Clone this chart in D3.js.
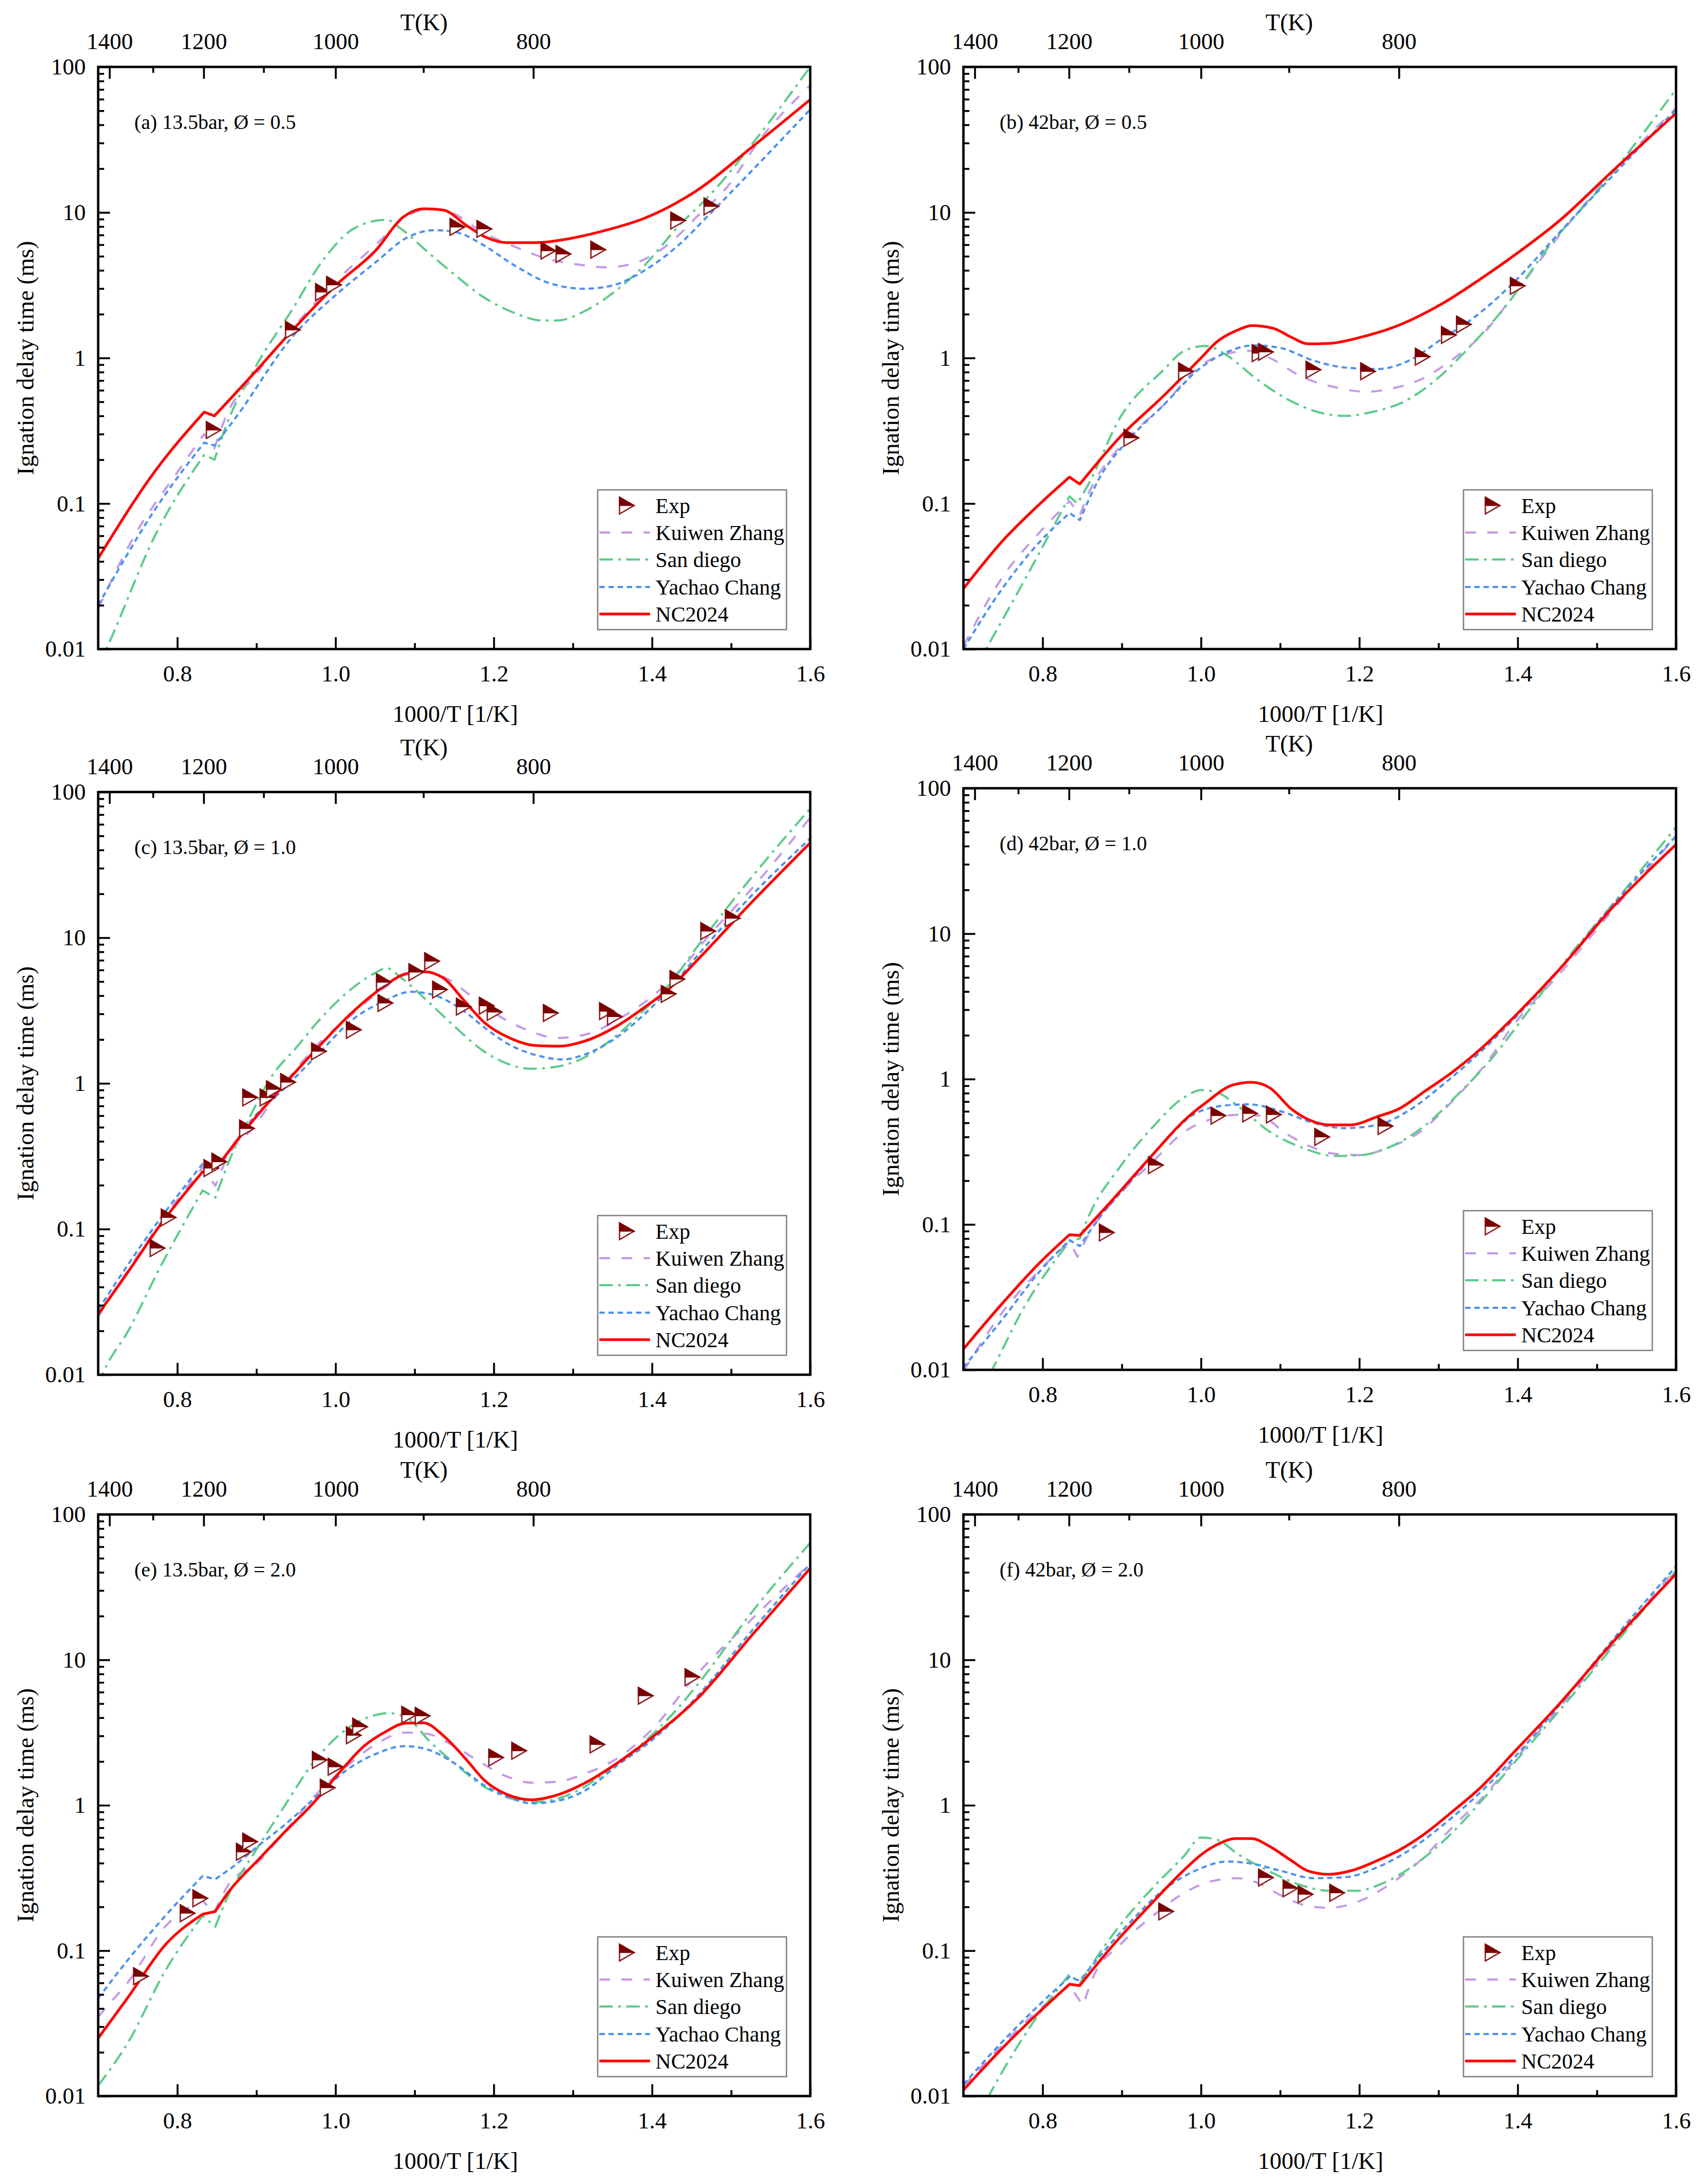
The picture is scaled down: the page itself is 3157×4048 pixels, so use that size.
<!DOCTYPE html>
<html><head><meta charset="utf-8">
<script src="https://cdn.jsdelivr.net/npm/d3@7"></script>
<style>
body{margin:0;background:#fff}
svg text{font-family:"Liberation Serif","Times New Roman",serif}
</style>
</head><body>
<svg id="fig" width="3157" height="4048"></svg>
<script>
// ---------------- DATA (1000/T [1/K], ignition delay time [ms]) ----------------
// Panel (a) 13.5 bar, phi 0.5
const kz_a = [[0.700,0.019],[0.745,0.059],[0.800,0.164],[0.834,0.30],[0.847,0.24],[0.861,0.39],[0.900,0.78],[0.946,1.6],[1.001,3.4],[1.051,6.0],[1.091,9.5],[1.119,10.6],[1.146,10.0],[1.186,7.3],[1.227,5.8],[1.268,4.8],[1.309,4.37],[1.342,4.2],[1.376,4.45],[1.424,6.25],[1.458,9.5],[1.492,14.3],[1.539,33],[1.600,74.6]];
const sd_a = [[0.700,0.0076],[0.712,0.0105],[0.773,0.062],[0.834,0.216],[0.847,0.20],[0.861,0.334],[0.900,0.89],[0.946,2.18],[0.983,4.6],[1.024,7.8],[1.064,8.9],[1.085,7.55],[1.119,5.2],[1.153,3.64],[1.186,2.64],[1.227,2.03],[1.261,1.81],[1.281,1.81],[1.315,2.1],[1.356,2.95],[1.390,4.3],[1.433,8.0],[1.475,13.5],[1.539,36],[1.600,100]];
const yc_a = [[0.700,0.020],[0.773,0.093],[0.834,0.262],[0.847,0.25],[0.874,0.39],[0.946,1.41],[1.001,2.73],[1.051,4.56],[1.091,6.75],[1.125,7.55],[1.153,7.3],[1.186,6.0],[1.227,4.3],[1.268,3.3],[1.315,2.99],[1.349,3.14],[1.390,3.98],[1.431,5.8],[1.471,9.5],[1.526,19.3],[1.600,51]];
const nc_a = [[0.700,0.042],[0.773,0.17],[0.834,0.425],[0.847,0.40],[0.900,0.82],[0.946,1.56],[1.001,3.18],[1.051,5.5],[1.085,9.25],[1.112,10.6],[1.136,10.4],[1.166,8.1],[1.190,6.75],[1.217,6.2],[1.254,6.2],[1.295,6.6],[1.342,7.55],[1.390,9.1],[1.458,14.3],[1.526,28],[1.600,59.6]];
const exp_a = [[0.846,0.32],[0.946,1.56],[0.984,2.84],[0.998,3.18],[1.154,7.95],[1.188,7.7],[1.269,5.46],[1.288,5.18],[1.332,5.55],[1.433,8.8],[1.475,11.0]];

// Panel (b) 42 bar, phi 0.5
const kz_b = [[0.700,0.0105],[0.749,0.031],[0.797,0.064],[0.834,0.104],[0.847,0.083],[0.858,0.117],[0.898,0.247],[0.952,0.47],[1.000,0.89],[1.033,1.07],[1.060,1.12],[1.087,1.0],[1.128,0.74],[1.169,0.63],[1.209,0.586],[1.243,0.62],[1.277,0.71],[1.317,0.97],[1.358,1.5],[1.398,2.84],[1.453,7.0],[1.500,14.3],[1.600,52]];
const sd_b = [[0.700,0.0053],[0.729,0.0101],[0.776,0.029],[0.834,0.112],[0.844,0.10],[0.858,0.136],[0.898,0.39],[0.952,0.82],[0.979,1.12],[1.006,1.21],[1.033,1.04],[1.067,0.74],[1.108,0.525],[1.148,0.425],[1.182,0.40],[1.216,0.425],[1.256,0.5],[1.297,0.71],[1.338,1.17],[1.385,2.27],[1.439,5.8],[1.507,15.4],[1.600,70]];
const yc_b = [[0.700,0.010],[0.749,0.026],[0.797,0.055],[0.834,0.086],[0.847,0.077],[0.871,0.147],[0.912,0.287],[0.952,0.47],[1.000,0.86],[1.033,1.1],[1.067,1.22],[1.101,1.17],[1.142,0.96],[1.182,0.86],[1.223,0.84],[1.263,0.96],[1.304,1.35],[1.344,1.88],[1.398,3.43],[1.453,7.3],[1.520,17.9],[1.600,51]];
const nc_b = [[0.700,0.026],[0.749,0.055],[0.797,0.10],[0.834,0.152],[0.847,0.136],[0.898,0.287],[0.952,0.544],[1.000,1.0],[1.020,1.29],[1.047,1.56],[1.064,1.67],[1.091,1.6],[1.114,1.39],[1.135,1.25],[1.162,1.26],[1.202,1.39],[1.250,1.68],[1.304,2.35],[1.351,3.43],[1.398,5.18],[1.453,8.8],[1.520,19.3],[1.600,48]];
const exp_b = [[0.912,0.283],[0.981,0.81],[1.074,1.08],[1.082,1.1],[1.142,0.83],[1.211,0.81],[1.280,1.02],[1.313,1.44],[1.332,1.70],[1.400,3.13]];

// Panel (c) 13.5 bar, phi 1.0
const kz_c = [[0.700,0.025],[0.777,0.107],[0.832,0.265],[0.848,0.198],[0.864,0.316],[0.895,0.49],[0.934,0.97],[0.973,1.74],[1.020,2.95],[1.060,4.45],[1.091,5.62],[1.115,5.8],[1.142,5.2],[1.169,4.07],[1.201,3.03],[1.248,2.26],[1.279,2.05],[1.314,2.15],[1.363,2.87],[1.404,4.11],[1.437,6.1],[1.471,10.2],[1.526,21.7],[1.600,66.7]];
const sd_c = [[0.700,0.0085],[0.707,0.0105],[0.738,0.02],[0.777,0.053],[0.832,0.184],[0.848,0.164],[0.864,0.28],[0.895,0.64],[0.918,1.09],[0.950,1.75],[0.981,2.78],[1.020,4.45],[1.052,5.8],[1.064,6.2],[1.083,5.3],[1.115,3.73],[1.150,2.47],[1.189,1.64],[1.248,1.26],[1.279,1.30],[1.314,1.5],[1.356,2.15],[1.390,3.19],[1.424,4.93],[1.458,8.8],[1.526,26],[1.600,77]];
const yc_c = [[0.700,0.028],[0.777,0.115],[0.832,0.28],[0.856,0.28],[0.864,0.33],[0.895,0.57],[0.934,0.91],[0.981,1.65],[1.020,2.7],[1.060,3.64],[1.095,4.25],[1.122,4.07],[1.162,3.14],[1.189,2.4],[1.220,1.84],[1.256,1.55],[1.287,1.46],[1.314,1.57],[1.356,2.08],[1.390,2.97],[1.424,4.58],[1.458,7.6],[1.526,19.5],[1.600,48]];
const nc_c = [[0.700,0.026],[0.738,0.051],[0.777,0.104],[0.832,0.247],[0.848,0.257],[0.864,0.336],[0.895,0.55],[0.934,0.966],[0.981,1.84],[1.020,3.03],[1.060,4.58],[1.087,5.62],[1.111,5.86],[1.136,5.3],[1.162,3.73],[1.189,2.59],[1.220,2.05],[1.252,1.82],[1.283,1.8],[1.315,1.95],[1.356,2.48],[1.390,3.31],[1.424,4.58],[1.458,7.08],[1.526,17.5],[1.600,44.8]];
const exp_c = [[0.775,0.074],[0.789,0.12],[0.843,0.262],[0.853,0.29],[0.888,0.49],[0.892,0.80],[0.914,0.80],[0.922,0.91],[0.940,1.02],[0.979,1.66],[1.023,2.33],[1.061,4.95],[1.063,3.56],[1.102,5.8],[1.122,6.9],[1.132,4.4],[1.162,3.36],[1.191,3.41],[1.201,3.09],[1.272,3.04],[1.343,3.13],[1.353,2.87],[1.421,4.11],[1.432,5.2],[1.471,11.1],[1.502,13.6]];

// Panel (d) 42 bar, phi 1.0
const kz_d = [[0.700,0.0098],[0.749,0.0248],[0.797,0.049],[0.834,0.0765],[0.844,0.06],[0.858,0.085],[0.898,0.163],[0.939,0.27],[0.979,0.434],[1.013,0.53],[1.047,0.568],[1.074,0.56],[1.108,0.42],[1.142,0.337],[1.169,0.306],[1.202,0.30],[1.236,0.337],[1.277,0.434],[1.317,0.70],[1.358,1.24],[1.398,2.48],[1.453,5.3],[1.520,14.5],[1.600,46.8]];
const sd_d = [[0.700,0.0045],[0.736,0.01],[0.776,0.0266],[0.834,0.0765],[0.847,0.08],[0.858,0.113],[0.898,0.25],[0.939,0.467],[0.979,0.75],[1.000,0.84],[1.020,0.81],[1.047,0.65],[1.087,0.434],[1.128,0.337],[1.169,0.296],[1.202,0.30],[1.243,0.35],[1.284,0.484],[1.324,0.78],[1.365,1.34],[1.412,2.87],[1.466,7.1],[1.534,19.6],[1.600,54]];
const yc_d = [[0.700,0.0104],[0.749,0.0222],[0.797,0.048],[0.834,0.078],[0.847,0.071],[0.871,0.11],[0.912,0.2],[0.952,0.36],[0.993,0.58],[1.033,0.66],[1.060,0.67],[1.101,0.6],[1.142,0.5],[1.182,0.46],[1.223,0.484],[1.263,0.61],[1.304,0.9],[1.351,1.5],[1.398,2.68],[1.453,5.7],[1.520,15.8],[1.600,46.8]];
const nc_d = [[0.700,0.0139],[0.749,0.0286],[0.797,0.055],[0.834,0.085],[0.847,0.084],[0.885,0.141],[0.939,0.302],[0.979,0.52],[1.006,0.686],[1.040,0.91],[1.064,0.95],[1.087,0.87],[1.114,0.624],[1.138,0.52],[1.162,0.484],[1.189,0.484],[1.223,0.552],[1.250,0.624],[1.284,0.834],[1.317,1.11],[1.351,1.57],[1.398,2.76],[1.453,5.7],[1.520,15.2],[1.600,41]];
const exp_d = [[0.881,0.088],[0.943,0.256],[1.022,0.56],[1.062,0.58],[1.092,0.57],[1.153,0.40],[1.233,0.475]];

// Panel (e) 13.5 bar, phi 2.0
const kz_e = [[0.700,0.035],[0.707,0.039],[0.738,0.061],[0.785,0.147],[0.832,0.222],[0.846,0.18],[0.864,0.28],[0.903,0.41],[0.934,0.64],[0.973,1.15],[1.013,1.83],[1.052,2.65],[1.087,3.16],[1.115,3.1],[1.150,2.55],[1.181,2.01],[1.216,1.58],[1.248,1.43],[1.279,1.45],[1.314,1.64],[1.356,2.1],[1.404,3.5],[1.451,7.3],[1.526,19],[1.600,46]];
const sd_e = [[0.700,0.0118],[0.738,0.0235],[0.785,0.073],[0.832,0.174],[0.848,0.146],[0.864,0.237],[0.895,0.45],[0.934,0.96],[0.973,2.0],[1.013,3.31],[1.052,4.19],[1.067,4.3],[1.091,3.98],[1.118,2.78],[1.150,1.95],[1.189,1.33],[1.220,1.12],[1.248,1.05],[1.283,1.12],[1.314,1.33],[1.356,1.95],[1.390,2.72],[1.431,4.54],[1.458,6.8],[1.526,21.2],[1.600,63.8]];
const yc_e = [[0.700,0.047],[0.738,0.087],[0.785,0.174],[0.832,0.326],[0.848,0.31],[0.871,0.38],[0.903,0.53],[0.934,0.72],[0.973,1.11],[1.013,1.73],[1.052,2.27],[1.087,2.55],[1.115,2.43],[1.150,1.95],[1.189,1.36],[1.220,1.13],[1.248,1.03],[1.283,1.08],[1.314,1.25],[1.356,1.88],[1.400,2.8],[1.458,5.66],[1.526,15.8],[1.600,45.9]];
const nc_e = [[0.700,0.025],[0.738,0.048],[0.785,0.11],[0.832,0.178],[0.848,0.186],[0.864,0.25],[0.903,0.425],[0.934,0.64],[0.973,1.05],[1.005,1.68],[1.036,2.55],[1.064,3.22],[1.087,3.66],[1.111,3.69],[1.138,2.95],[1.165,2.07],[1.189,1.47],[1.216,1.19],[1.248,1.09],[1.283,1.19],[1.314,1.41],[1.356,1.95],[1.400,2.93],[1.458,5.46],[1.526,14.7],[1.600,42.7]];
const exp_e = [[0.754,0.0667],[0.813,0.181],[0.829,0.229],[0.884,0.478],[0.892,0.562],[0.980,2.05],[0.990,1.32],[1.000,1.84],[1.023,3.03],[1.031,3.47],[1.093,4.19],[1.110,4.12],[1.203,2.13],[1.232,2.37],[1.331,2.62],[1.392,5.66],[1.451,7.6]];

// Panel (f) 42 bar, phi 2.0
const kz_f = [[0.700,0.0117],[0.749,0.0224],[0.797,0.04],[0.834,0.0575],[0.851,0.042],[0.864,0.066],[0.898,0.11],[0.939,0.173],[0.979,0.25],[1.013,0.3],[1.047,0.315],[1.074,0.289],[1.101,0.24],[1.135,0.203],[1.162,0.197],[1.196,0.215],[1.236,0.28],[1.277,0.417],[1.317,0.7],[1.358,1.17],[1.398,2.1],[1.453,4.7],[1.520,12.7],[1.600,42.7]];
const sd_f = [[0.700,0.0045],[0.732,0.01],[0.776,0.0256],[0.834,0.0688],[0.847,0.0595],[0.864,0.083],[0.898,0.15],[0.939,0.27],[0.979,0.45],[1.000,0.6],[1.020,0.58],[1.047,0.46],[1.087,0.35],[1.128,0.28],[1.162,0.258],[1.196,0.258],[1.229,0.29],[1.270,0.39],[1.317,0.645],[1.358,1.13],[1.398,2.03],[1.453,4.5],[1.520,12.3],[1.600,41]];
const yc_f = [[0.700,0.012],[0.749,0.0236],[0.797,0.043],[0.834,0.066],[0.847,0.062],[0.871,0.09],[0.912,0.16],[0.952,0.26],[0.993,0.355],[1.033,0.41],[1.060,0.40],[1.101,0.354],[1.142,0.315],[1.182,0.32],[1.223,0.375],[1.263,0.49],[1.304,0.72],[1.351,1.2],[1.398,2.2],[1.453,4.9],[1.520,13.7],[1.600,44]];
const nc_f = [[0.700,0.011],[0.749,0.0213],[0.797,0.0384],[0.834,0.0588],[0.847,0.0575],[0.885,0.103],[0.939,0.215],[0.979,0.36],[1.000,0.456],[1.023,0.545],[1.043,0.59],[1.064,0.59],[1.087,0.52],[1.114,0.417],[1.135,0.354],[1.162,0.335],[1.189,0.354],[1.223,0.417],[1.250,0.49],[1.284,0.644],[1.317,0.9],[1.351,1.29],[1.398,2.4],[1.453,5.0],[1.520,13.2],[1.600,39]];
const exp_f = [[0.956,0.186],[1.082,0.318],[1.113,0.268],[1.132,0.244],[1.172,0.25]];

// Tick values / labels
const xDomain = [0.7, 1.6];
const xMajorTicks = [0.8, 1.0, 1.2, 1.4, 1.6];
const xMinorTicks = [0.9, 1.1, 1.3, 1.5];
const yDomain = [0.01, 100];
const yMajorTicks = [0.01, 0.1, 1, 10, 100];
const yTickLabels = ["0.01", "0.1", "1", "10", "100"];
const tMajorTicks = [1400, 1200, 1000, 800];
const tMinorTicks = [1300, 1100, 900];
const panelTitles = ["(a) 13.5bar, Ø = 0.5","(b) 42bar, Ø = 0.5","(c) 13.5bar, Ø = 1.0","(d) 42bar, Ø = 1.0","(e) 13.5bar, Ø = 2.0","(f) 42bar, Ø = 2.0"];
const seriesKeys = ["kz","sd","yc","nc"];
const seriesNames = {kz:"Kuiwen Zhang", sd:"San diego", yc:"Yachao Chang", nc:"NC2024"};

// ---------------- STYLE / LAYOUT ----------------
const styles = {
  kz:{color:"#c49be8", width:4, dash:"20,21"},
  sd:{color:"#5ecb8b", width:4, dash:"25,10,5,10"},
  yc:{color:"#4d92ec", width:4, dash:"10,7"},
  nc:{color:"#ff0000", width:5, dash:null}
};
const panels = [
  {x:182,  y:124,  w:1320, h:1079, s:{kz:kz_a,sd:sd_a,yc:yc_a,nc:nc_a}, exp:exp_a},
  {x:1786, y:124,  w:1321, h:1079, s:{kz:kz_b,sd:sd_b,yc:yc_b,nc:nc_b}, exp:exp_b},
  {x:182,  y:1468, w:1320, h:1080, s:{kz:kz_c,sd:sd_c,yc:yc_c,nc:nc_c}, exp:exp_c},
  {x:1786, y:1461, w:1321, h:1078, s:{kz:kz_d,sd:sd_d,yc:yc_d,nc:nc_d}, exp:exp_d},
  {x:182,  y:2807, w:1320, h:1078, s:{kz:kz_e,sd:sd_e,yc:yc_e,nc:nc_e}, exp:exp_e},
  {x:1786, y:2807, w:1321, h:1078, s:{kz:kz_f,sd:sd_f,yc:yc_f,nc:nc_f}, exp:exp_f}
];
const FONT = '"Liberation Serif","Times New Roman",serif';
const svg = d3.select("#fig");
svg.append("rect").attr("width",3157).attr("height",4048).attr("fill","#fff");

function marker(g, cx, cy){
  const hw = 13.5, hh = 15.5;
  g.append("path")
    .attr("d", `M${cx-hw},${cy-hh} L${cx+hw},${cy} L${cx-hw},${cy+hh} Z`)
    .attr("fill","#fff").attr("stroke","#8b1a1a").attr("stroke-width",2.5).attr("stroke-linejoin","miter");
  g.append("path")
    .attr("d", `M${cx-hw},${cy-hh} L${cx+hw},${cy} L${cx-hw},${cy} Z`)
    .attr("fill","#7b0000").attr("stroke","#7b0000").attr("stroke-width",1.5);
}

function styleAxis(sel, fs){
  sel.select(".domain").remove();
  sel.selectAll("line").attr("stroke","#000").attr("stroke-width",3.5);
  sel.selectAll("text").attr("font-size",fs).attr("font-family",FONT).attr("fill","#000");
}

// smooth curve with a sharp (linear) kink at the high-temperature transition (~0.834)
function seriesPath(data, x, y){
  const mono = d3.line().x(d=>x(d[0])).y(d=>y(d[1])).curve(d3.curveMonotoneX);
  const k = data.findIndex(d=>d[0]>=0.828 && d[0]<=0.838);
  if(k<0 || k>=data.length-1) return mono(data);
  return mono(data.slice(0,k+1)) + mono(data.slice(k+1)).replace(/^M/,"L");
}

panels.forEach((p,i)=>{
  const g = svg.append("g").attr("transform",`translate(${p.x},${p.y})`);
  const x = d3.scaleLinear().domain(xDomain).range([0,p.w]);
  const y = d3.scaleLog().domain(yDomain).range([p.h,0]);
  const cid = "clip"+i;
  g.append("clipPath").attr("id",cid).append("rect").attr("width",p.w).attr("height",p.h);

  // series lines
  const lg = g.append("g").attr("clip-path",`url(#${cid})`);
  seriesKeys.forEach(k=>{
    const st = styles[k];
    lg.append("path").attr("d",seriesPath(p.s[k],x,y))
      .attr("fill","none").attr("stroke",st.color).attr("stroke-width",st.width)
      .attr("stroke-dasharray",st.dash).attr("stroke-linejoin","round");
  });
  // experimental markers
  const mg = g.append("g");
  p.exp.forEach(d=>marker(mg, x(d[0]), y(d[1])));

  // axes
  const bMaj = d3.axisBottom(x).tickValues(xMajorTicks).tickFormat(d3.format(".1f"))
    .tickSizeInner(-22).tickSizeOuter(0).tickPadding(29.5);
  g.append("g").attr("transform",`translate(0,${p.h})`).call(bMaj).call(s=>styleAxis(s,43));
  const bMin = d3.axisBottom(x).tickValues(xMinorTicks).tickFormat("").tickSizeInner(-11).tickSizeOuter(0);
  g.append("g").attr("transform",`translate(0,${p.h})`).call(bMin).call(s=>styleAxis(s,43));

  const lMaj = d3.axisLeft(y).tickValues(yMajorTicks).tickFormat((d,j)=>yTickLabels[j])
    .tickSizeInner(-22).tickSizeOuter(0).tickPadding(23);
  g.append("g").call(lMaj).call(s=>styleAxis(s,43));
  const minorY = [];
  [0.01,0.1,1,10].forEach(dec=>{ for(let m=2;m<=9;m++) minorY.push(dec*m); });
  const lMin = d3.axisLeft(y).tickValues(minorY).tickFormat("").tickSizeInner(-11).tickSizeOuter(0);
  g.append("g").call(lMin).call(s=>styleAxis(s,43));

  const tMaj = d3.axisTop(x).tickValues(tMajorTicks.map(t=>1000/t)).tickFormat(d=>Math.round(1000/d))
    .tickSizeInner(-22).tickSizeOuter(0).tickPadding(33);
  g.append("g").call(tMaj).call(s=>styleAxis(s,43));
  const tMin = d3.axisTop(x).tickValues(tMinorTicks.map(t=>1000/t)).tickFormat("").tickSizeInner(-11).tickSizeOuter(0);
  g.append("g").call(tMin).call(s=>styleAxis(s,43));

  // frame
  g.append("rect").attr("width",p.w).attr("height",p.h).attr("fill","none")
    .attr("stroke","#000").attr("stroke-width",4.5);

  // titles
  g.append("text").attr("x",604).attr("y",-68).attr("text-anchor","middle")
    .attr("font-size",44).attr("font-family",FONT).text("T(K)");
  g.append("text").attr("x",662).attr("y",p.h+135).attr("text-anchor","middle")
    .attr("font-size",44).attr("font-family",FONT).text("1000/T [1/K]");
  g.append("text").attr("transform",`translate(-120,${p.h/2}) rotate(-90)`).attr("text-anchor","middle")
    .attr("font-size",44).attr("font-family",FONT).text("Ignation delay time (ms)");
  g.append("text").attr("x",67).attr("y",115)
    .attr("font-size",38).attr("font-family",FONT).text(panelTitles[i]);

  // legend
  const LW = 350, LH = 259;
  const leg = g.append("g").attr("transform",`translate(${p.w-44-LW},${p.h-36-LH})`);
  leg.append("rect").attr("width",LW).attr("height",LH).attr("fill","#fff")
    .attr("stroke","#808080").attr("stroke-width",2.5);
  const rows = [29,79,129,180,230];
  marker(leg, 54, rows[0]);
  leg.append("text").attr("x",107).attr("y",rows[0]+14).attr("font-size",40).attr("font-family",FONT).text("Exp");
  seriesKeys.forEach((k,j)=>{
    const st = styles[k], ry = rows[j+1];
    leg.append("line").attr("x1",3).attr("x2",97).attr("y1",ry).attr("y2",ry)
      .attr("stroke",st.color).attr("stroke-width",st.width).attr("stroke-dasharray",st.dash);
    leg.append("text").attr("x",107).attr("y",ry+14).attr("font-size",40).attr("font-family",FONT).text(seriesNames[k]);
  });
});
</script>
</body></html>
